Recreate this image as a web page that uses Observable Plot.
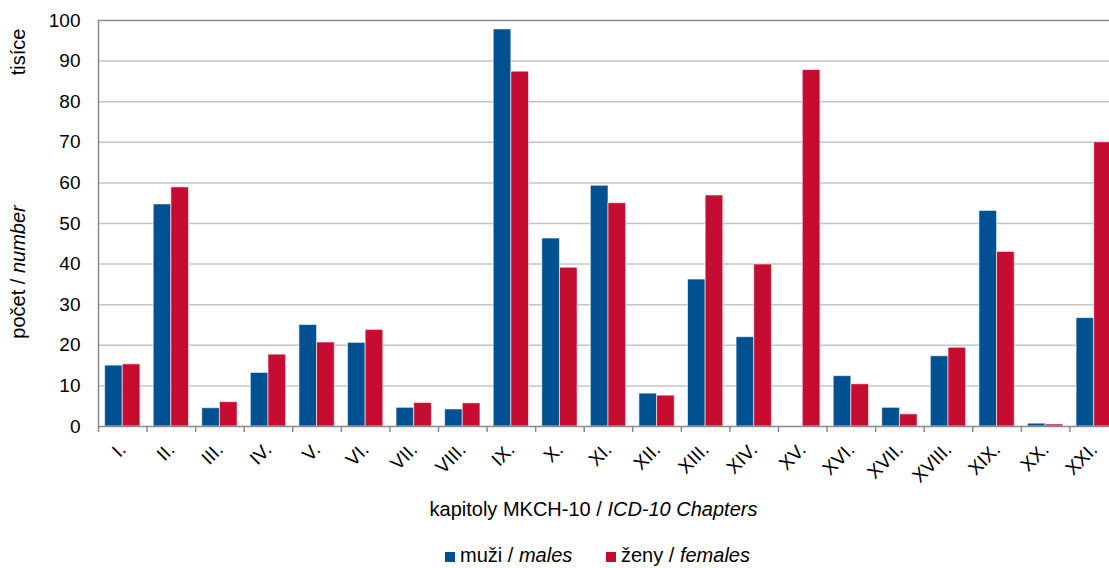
<!DOCTYPE html>
<html>
<head>
<meta charset="utf-8">
<script src="https://cdn.jsdelivr.net/npm/d3@7"></script>
<script src="https://cdn.jsdelivr.net/npm/@observablehq/plot@0.6"></script>
<style>
  html, body { margin: 0; padding: 0; background: #fff; overflow: hidden; }
  #wrap { position: relative; width: 1109px; height: 568px; font-family: "Liberation Sans", Arial, sans-serif; color: #000; }
  #wrap svg { max-width: none; }
  .lg-sq { position: absolute; width: 10px; height: 10px; }
  .lg-tx { position: absolute; font-size: 20px; line-height: 22px; white-space: nowrap; }
</style>
</head>
<body>
<div id="wrap"></div>
<script>
const categories = ["I.","II.","III.","IV.","V.","VI.","VII.","VIII.","IX.","X.","XI.","XII.","XIII.","XIV.","XV.","XVI.","XVII.","XVIII.","XIX.","XX.","XXI."];
const males   = [15.0, 54.7, 4.5, 13.2, 25.0, 20.6, 4.6, 4.2, 97.8, 46.3, 59.3, 8.1, 36.2, 22.0, 0.0, 12.4, 4.6, 17.3, 53.1, 0.7, 26.7];
const females = [15.3, 58.9, 6.0, 17.7, 20.7, 23.8, 5.8, 5.7, 87.4, 39.1, 55.0, 7.6, 56.9, 39.9, 87.8, 10.4, 3.0, 19.4, 43.0, 0.5, 70.0];
const yTicks = [0, 10, 20, 30, 40, 50, 60, 70, 80, 90, 100];
const seriesNames = ["muži", "ženy"];
const seriesNamesEn = ["males", "females"];
const colors = ["#005192", "#c60d31"];

const maleRows = categories.map((c, i) => ({chapter: c, value: males[i]}));
const femaleRows = categories.map((c, i) => ({chapter: c, value: females[i]}));

const W = 1109, ML = 98, MR = -9;
const step = (W - ML - MR) / categories.length;
const axisGrey = "#8a8a8a";

const chart = Plot.plot({
  width: W,
  height: 530,
  marginLeft: ML,
  marginRight: MR,
  marginTop: 20,
  marginBottom: 104,
  style: {fontFamily: "'Liberation Sans', Arial, sans-serif", fontSize: "18px", color: "#000", background: "#fff"},
  x: {domain: categories, paddingInner: 0.273, paddingOuter: 0.1365, round: false, label: null},
  y: {domain: [0, 100], label: null},
  marks: [
    Plot.gridY(yTicks.filter(d => d > 0 && d < 100), {stroke: "#c4c4c4", strokeOpacity: 1, strokeWidth: 1.5}),
    Plot.barY(maleRows, {x: "chapter", y: "value", fill: colors[0], insetRight: 17.65, stroke: "#ffffff", strokeOpacity: 0.6, strokeWidth: 1}),
    Plot.barY(femaleRows, {x: "chapter", y: "value", fill: colors[1], insetLeft: 17.65, stroke: "#ffffff", strokeOpacity: 0.6, strokeWidth: 1}),
    Plot.ruleY([100], {stroke: axisGrey, strokeWidth: 1.5}),
    Plot.ruleY([0], {stroke: axisGrey, strokeWidth: 1.5}),
    Plot.frame({anchor: "left", stroke: axisGrey, strokeWidth: 1.5}),
    Plot.axisY({ticks: yTicks, tickSize: 0, tickPadding: 18, fontSize: 19, label: null}),
    Plot.axisX({tickSize: 0, tickRotate: -45, tickPadding: 20, fontSize: 19, label: null}),
    Plot.axisX({tickSize: 6, text: null, dx: -step / 2, stroke: axisGrey, strokeWidth: 1.5, label: null})
  ]
});

const wrap = document.getElementById("wrap");
wrap.appendChild(chart);

const svg = d3.select(chart);
// y axis titles
svg.append("text")
  .attr("transform", "translate(25,52) rotate(-90)")
  .attr("text-anchor", "middle")
  .style("font-size", "20px")
  .text("tisíce");
const yt = svg.append("text")
  .attr("transform", "translate(25,272) rotate(-90)")
  .attr("text-anchor", "middle")
  .style("font-size", "20px");
yt.append("tspan").text("počet / ");
yt.append("tspan").style("font-style", "italic").text("number");
// x axis title
const xt = svg.append("text")
  .attr("x", 593.5).attr("y", 516)
  .attr("text-anchor", "middle")
  .style("font-size", "20px");
xt.append("tspan").text("kapitoly MKCH-10 / ");
xt.append("tspan").style("font-style", "italic").text("ICD-10 Chapters");

// legend
const legendPos = [{sq: 445, tx: 460}, {sq: 606, tx: 621}];
seriesNames.forEach((n, i) => {
  const sq = document.createElement("div");
  sq.className = "lg-sq";
  sq.style.left = legendPos[i].sq + "px";
  sq.style.top = "552px";
  sq.style.background = colors[i];
  wrap.appendChild(sq);
  const tx = document.createElement("div");
  tx.className = "lg-tx";
  tx.style.left = legendPos[i].tx + "px";
  tx.style.top = "544px";
  tx.innerHTML = n + " / <i>" + seriesNamesEn[i] + "</i>";
  wrap.appendChild(tx);
});
</script>
</body>
</html>
